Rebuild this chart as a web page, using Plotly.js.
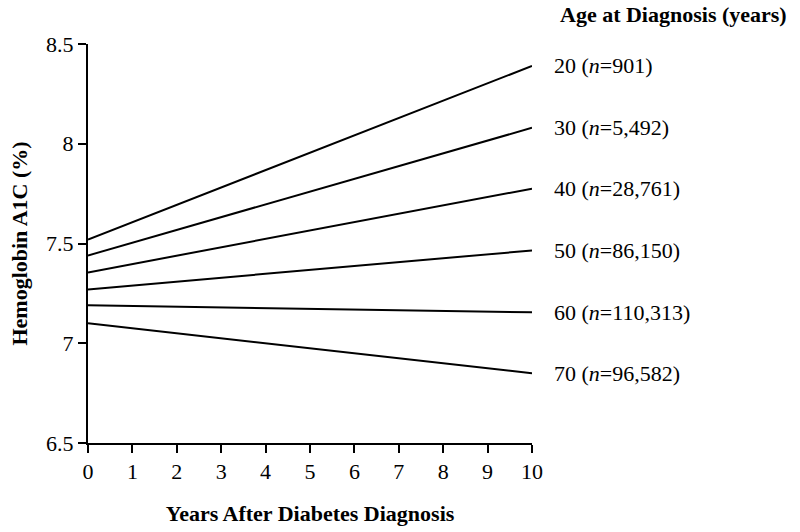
<!DOCTYPE html>
<html>
<head>
<meta charset="utf-8">
<script src="https://cdn.plot.ly/plotly-3.0.1.min.js"></script>
<style>body{margin:0;padding:0;background:#fff}#chart{width:800px;height:532px}</style>
</head>
<body>
<div id="chart"></div>
<script>
const years = [0, 10];
const ageGroups = ["20", "30", "40", "50", "60", "70"];
const sampleSizes = ["901", "5,492", "28,761", "86,150", "110,313", "96,582"];
const a1cStart = [7.52, 7.44, 7.355, 7.27, 7.19, 7.10];
const a1cEnd = [8.39, 8.08, 7.775, 7.465, 7.155, 6.85];
const xTicks = [0,1,2,3,4,5,6,7,8,9,10];
const yTicks = [6.5, 7, 7.5, 8, 8.5];
const yTickText = ["6.5", "7", "7.5", "8", "8.5"];

const font = "Liberation Serif, Times New Roman, serif";
const fs = 22;

const traces = ageGroups.map((g, i) => ({
  type: "scatter", mode: "lines",
  x: years, y: [a1cStart[i], a1cEnd[i]],
  line: {color: "#000", width: 2},
  hoverinfo: "skip", showlegend: false
}));

const annotations = ageGroups.map((g, i) => ({
  xref: "paper", yref: "y", x: 1.045, y: a1cEnd[i],
  xanchor: "left", yanchor: "middle", showarrow: false,
  text: g + " (<i>n</i>=" + sampleSizes[i] + ")",
  font: {family: font, size: fs, color: "#000"}
}));
annotations.push({
  xref: "paper", yref: "paper", x: 1.058, y: 1.075,
  xanchor: "left", yanchor: "middle", showarrow: false,
  text: "<b>Age at Diagnosis (years)</b>",
  font: {family: font, size: fs, color: "#000"}
});

const layout = {
  width: 800, height: 532,
  margin: {l: 88, r: 268, t: 44, b: 89},
  paper_bgcolor: "#fff", plot_bgcolor: "#fff",
  font: {family: font, size: fs, color: "#000"},
  showlegend: false,
  xaxis: {
    range: [0, 10], tickvals: xTicks, ticks: "outside", ticklen: 8, tickwidth: 2,
    tickcolor: "#000", showline: true, linecolor: "#000", linewidth: 2,
    showgrid: false, zeroline: false, fixedrange: true,
    tickfont: {family: font, size: fs},
    title: {text: "<b>Years After Diabetes Diagnosis</b>", font: {family: font, size: fs}, standoff: 22}
  },
  yaxis: {
    range: [6.5, 8.5], tickvals: yTicks, ticktext: yTickText, ticks: "outside", ticklen: 8, tickwidth: 2,
    tickcolor: "#000", showline: true, linecolor: "#000", linewidth: 2,
    showgrid: false, zeroline: false, fixedrange: true,
    tickfont: {family: font, size: fs},
    title: {text: "<b>Hemoglobin A1C (%)</b>", font: {family: font, size: fs}, standoff: 12}
  },
  annotations: annotations
};

Plotly.newPlot("chart", traces, layout, {displayModeBar: false, staticPlot: true});
</script>
</body>
</html>
